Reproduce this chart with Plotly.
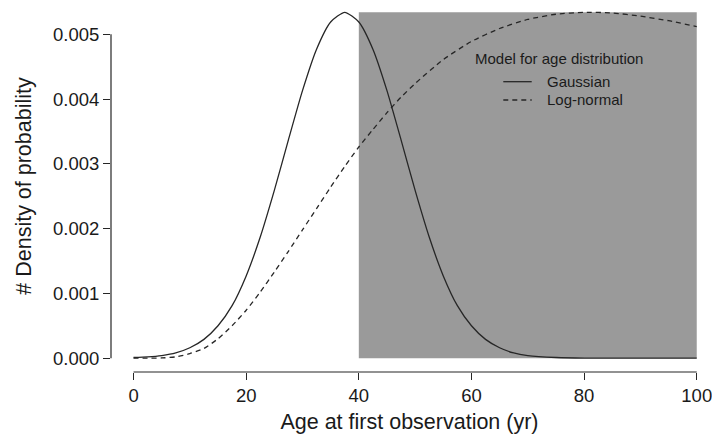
import plotly.graph_objects as go

# Age grid (yr) and model densities for the age at first observation
gauss_age = [0, 2.5, 5, 7.5, 10, 12.5, 15, 17.5, 20, 22.5, 25, 27.5, 30, 32.5,
             35, 37.5, 40, 42.5, 45, 47.5, 50, 52.5, 55, 57.5, 60, 62.5, 65,
             67.5, 70, 75, 80, 90, 100]
gauss_density = [0.00001, 0.00002, 0.00004, 0.00008, 0.00016, 0.00029, 0.0005,
                 0.00081, 0.00127, 0.00187, 0.00259, 0.00337, 0.00413,
                 0.00477, 0.00519, 0.00534, 0.00519, 0.00477, 0.00413,
                 0.00337, 0.00259, 0.00187, 0.00127, 0.00081, 0.0005,
                 0.00029, 0.00016, 0.00008, 0.00004, 0.00001, 0.0, 0.0, 0.0]

lognorm_age = [0, 2.5, 5, 7.5, 10, 12.5, 15, 17.5, 20, 22.5, 25, 27.5, 30, 32.5,
               35, 37.5, 40, 42.5, 45, 47.5, 50, 55, 60, 65, 70, 75, 80, 85,
               90, 95, 100]
lognorm_density = [0.0, 0.0, 0.000003, 0.00002, 0.00007, 0.00015, 0.0003,
                   0.0005, 0.00074, 0.00102, 0.00133, 0.00165, 0.00198,
                   0.00231, 0.00264, 0.00296, 0.00326, 0.00353, 0.00379,
                   0.00403, 0.00424, 0.00461, 0.00489, 0.00509, 0.00523,
                   0.00531, 0.00534, 0.00533, 0.00528, 0.00521, 0.00512]

# Shaded observation window
window_start = 40
window_end = 100
window_top = 0.00534

x_ticks = [0, 20, 40, 60, 80, 100]
y_ticks = [0.000, 0.001, 0.002, 0.003, 0.004, 0.005]
y_tick_text = ["0.000", "0.001", "0.002", "0.003", "0.004", "0.005"]

legend_title = "Model for age distribution"
series_names = ["Gaussian", "Log-normal"]

FONT = "Liberation Sans, Arial, Helvetica, sans-serif"
INK = "#262626"
TEXT = "#1a1a1a"
DASH = "5px,4px"

fig = go.Figure()

fig.add_trace(go.Scatter(
    x=gauss_age, y=gauss_density, mode="lines", name=series_names[0],
    line=dict(color=INK, width=1.3, shape="spline", smoothing=0.6),
    showlegend=False,
))
fig.add_trace(go.Scatter(
    x=lognorm_age, y=lognorm_density, mode="lines", name=series_names[1],
    line=dict(color=INK, width=1.3, dash=DASH, shape="spline", smoothing=0.6),
    showlegend=False,
))

shapes = [
    # observation window
    dict(type="rect", xref="x", yref="y", x0=window_start, x1=window_end,
         y0=0, y1=window_top, fillcolor="#9a9a9a", line=dict(width=0),
         layer="below"),
    # base-R style axis lines spanning only the tick range
    dict(type="line", xref="x", yref="paper", x0=x_ticks[0], x1=x_ticks[-1],
         y0=0, y1=0, line=dict(color=INK, width=1.2)),
    dict(type="line", xref="paper", yref="y", x0=0, x1=0,
         y0=y_ticks[0], y1=y_ticks[-1], line=dict(color=INK, width=1.2)),
]

annotations = [dict(
    text=legend_title, xref="paper", yref="paper",
    x=0.750, y=0.843, xanchor="center", yanchor="middle",
    showarrow=False, font=dict(size=15, family=FONT, color=TEXT),
)]

# Legend key: line sample + label for each model
key_rows = [(0.7804, None), (0.7312, DASH)]
for name, (ky, dash) in zip(series_names, key_rows):
    line_style = dict(color=INK, width=1.3)
    if dash:
        line_style["dash"] = dash
    shapes.append(dict(type="line", xref="paper", yref="paper",
                       x0=0.6571, x1=0.7047, y0=ky, y1=ky, line=line_style))
    annotations.append(dict(
        text=name, xref="paper", yref="paper", x=0.7270, y=ky,
        xanchor="left", yanchor="middle", showarrow=False,
        font=dict(size=15, family=FONT, color=TEXT),
    ))

fig.update_layout(
    width=712, height=434,
    margin=dict(l=111, r=4, t=0, b=62),
    paper_bgcolor="white", plot_bgcolor="white",
    font=dict(family=FONT, color=TEXT),
    shapes=shapes,
    annotations=annotations,
    showlegend=False,
    xaxis=dict(
        range=[-4, 102], tickvals=x_ticks, ticks="outside", ticklen=7,
        tickwidth=1.2, tickcolor=INK, showgrid=False, zeroline=False,
        showline=False, tickfont=dict(size=18.5, family=FONT),
        ticklabeloverflow="allow",
        title=dict(text="Age at first observation (yr)",
                   font=dict(size=21.5, family=FONT), standoff=8),
    ),
    yaxis=dict(
        range=[-0.000214, 0.00553], tickvals=y_ticks, ticktext=y_tick_text,
        ticks="outside", ticklen=7, tickwidth=1.2, tickcolor=INK,
        showgrid=False, zeroline=False, showline=False,
        tickfont=dict(size=18.5, family=FONT),
        title=dict(text="# Density of probability",
                   font=dict(size=21.5, family=FONT), standoff=15),
    ),
)

fig.write_html("out.html")
